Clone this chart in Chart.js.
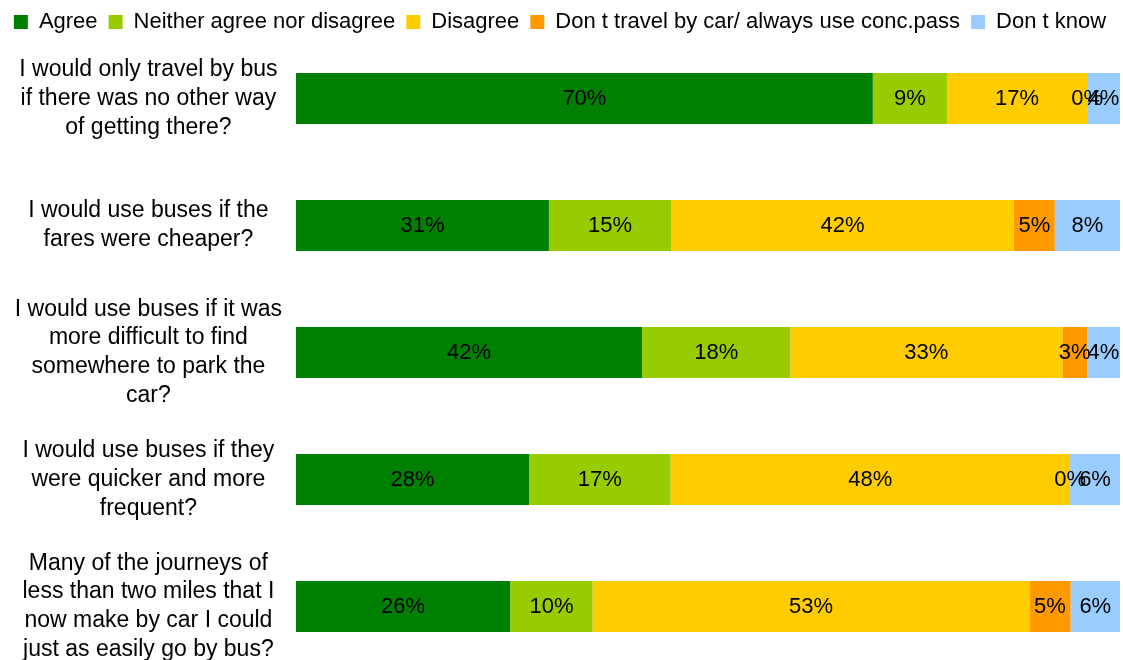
<!DOCTYPE html>
<html>
<head>
<meta charset="utf-8">
<title>Attitudes to bus travel</title>
<script src="https://cdn.jsdelivr.net/npm/chart.js@4.4.1/dist/chart.umd.min.js"></script>
<style>
  html, body { margin: 0; padding: 0; background: #fff; overflow: hidden; }
  #wrap { width: 1123px; height: 670px; }
</style>
</head>
<body>
<div id="wrap"><canvas id="busChart"></canvas></div>
<script>
// survey statements, one bar each
var questions = [
    ["I would only travel by bus", "if there was no other way", "of getting there?"],
    ["I would use buses if the", "fares were cheaper?"],
    ["I would use buses if it was", "more difficult to find", "somewhere to park the", "car?"],
    ["I would use buses if they", "were quicker and more", "frequent?"],
    ["Many of the journeys of", "less than two miles that I", "now make by car I could", "just as easily go by bus?"],
];

// answers, % of respondents (rounded, so rows don't always add to 100)
var agree = [70, 31, 42, 28, 26];
var neither = [9, 15, 18, 17, 10];
var disagree = [17, 42, 33, 48, 53];
var noCar = [0, 5, 3, 0, 5];
var dontKnow = [4, 8, 4, 6, 6];

var answers = ["Agree", "Neither agree nor disagree", "Disagree", "Don t travel by car/ always use conc.pass", "Don t know"];
var colours = ["#008000", "#99CC00", "#FFCC00", "#FF9900", "#99CCFF"];

var FONT = "'Liberation Sans', Arial, sans-serif";
Chart.defaults.font.family = FONT;
Chart.defaults.color = "#000";

var series = [agree, neither, disagree, noCar, dontKnow];
var rowTotals = questions.map(function (q, j) {
    return series.reduce(function (sum, s) { return sum + s[j]; }, 0);
});

// 100% stacked: each row is scaled to fill the full width
var datasets = series.map(function (values, i) {
    return {
        label: answers[i],
        pct: values,
        data: values.map(function (v, j) { return v / rowTotals[j] * 100; }),
        backgroundColor: colours[i],
        borderWidth: 0,
        barPercentage: 0.4,
        categoryPercentage: 1.0,
    };
});

// percentage text in the middle of every segment
var barLabels = {
    id: "barLabels",
    afterDatasetsDraw: function (chart) {
        var ctx = chart.ctx;
        ctx.save();
        ctx.font = "22px " + FONT;
        ctx.fillStyle = "#000";
        ctx.textAlign = "center";
        ctx.textBaseline = "middle";
        chart.data.datasets.forEach(function (ds, i) {
            chart.getDatasetMeta(i).data.forEach(function (bar, j) {
                ctx.fillText(ds.pct[j] + "%", (bar.x + bar.base) / 2, bar.y);
            });
        });
        ctx.restore();
    },
};

// keep the legend strip short so the bars start right under it
var legendHeight = {
    id: "legendHeight",
    afterInit: function (chart) {
        if (!chart.legend) return;
        var fit = chart.legend.fit;
        chart.legend.fit = function () {
            fit.call(this);
            this.height = 35;
        };
    },
};

var ctx = document.getElementById("busChart").getContext("2d");
var busChart = new Chart(ctx, {
    type: "bar",
    data: {
        labels: questions,
        datasets: datasets,
    },
    plugins: [barLabels, legendHeight],
    options: {
        indexAxis: "y",
        responsive: true,
        maintainAspectRatio: false,
        animation: false,
        layout: { padding: { left: 0, right: 3, top: 0, bottom: 0 } },
        scales: {
            x: {
                stacked: true,
                min: 0,
                max: 100,
                display: false,
            },
            y: {
                stacked: true,
                grid: { display: false },
                border: { display: false },
                ticks: {
                    font: { size: 23, lineHeight: 1.25 },
                    color: "#000",
                    crossAlign: "center",
                    padding: 6,
                },
                afterFit: function (scale) {
                    scale.width = 296;
                    // labels sit inside the category bands, no extra room needed
                    scale.paddingTop = 0;
                    scale.paddingBottom = 0;
                },
            },
        },
        plugins: {
            legend: {
                position: "top",
                labels: {
                    boxWidth: 14,
                    boxHeight: 14,
                    padding: 11,
                    color: "#000",
                    font: { size: 22 },
                },
            },
            tooltip: { enabled: false },
        },
    },
});
</script>
</body>
</html>
